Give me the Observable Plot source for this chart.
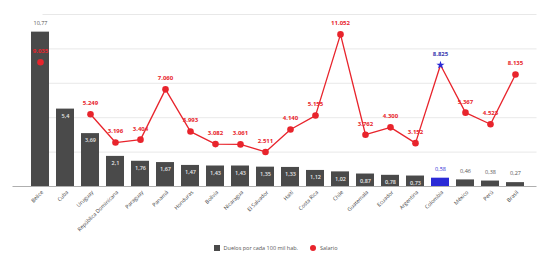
<!DOCTYPE html>
<html><head><meta charset="utf-8">
<script src="https://cdn.jsdelivr.net/npm/d3@7"></script>
<script src="https://cdn.jsdelivr.net/npm/@observablehq/plot@0.6"></script>
<style>
body{margin:0;background:#fff;font-family:"Open Sans",Roboto,sans-serif;width:537px;height:253px;overflow:hidden}
#legend{display:flex;justify-content:center;align-items:center;font-size:5.5px;color:#555;height:18px;padding-left:14px;padding-top:4px}
#legend .sq{width:6px;height:6px;background:#4a4a4a;margin-right:4px}
#legend .ci{width:6px;height:6px;border-radius:50%;background:#e8242c;margin:0 4px 0 12px}
</style></head><body>
<div id="chart"></div>
<div id="legend"><span class="sq"></span><span>Duelos por cada 100 mil hab.</span><span class="ci"></span><span>Salario</span></div>
<script>
const paises = ["Belice","Cuba","Uruguay","República Dominicana","Paraguay","Panamá","Honduras","Bolivia","Nicaragua","El Salvador","Haití","Costa Rica","Chile","Guatemala","Ecuador","Argentina","Colombia","México","Perú","Brasil"];
const duelos = [10.77,5.4,3.69,2.1,1.76,1.67,1.47,1.43,1.43,1.35,1.33,1.12,1.02,0.87,0.78,0.73,0.58,0.46,0.38,0.27];
const salario = [9035,null,5249,3196,3404,7060,3993,3082,3061,2511,4140,5155,11052,3762,4300,3152,8825,5367,4523,8135];
const destacado = "Colombia";
const gridSalario = [2500,5000,7500,10000,12500];
const maxDuelos = 12, maxSalario = 12500;

const k = maxSalario / maxDuelos;
const data = paises.map((p,i)=>({pais:p, duelos:duelos[i], salario:salario[i]}));
const loc = d3.formatLocale({decimal:",", thousands:".", grouping:[3], currency:["$",""]});
const fSal = loc.format(",");
const fDue = d => String(d).replace(".", ",");
const gray = "#4a4a4a", blue = "#2a2ad6", red = "#e8242c";

const chart = Plot.plot({
  width: 537, height: 235,
  marginTop: 14, marginBottom: 49, marginLeft: 18.5, marginRight: 0.5,
  style: {fontFamily: '"Open Sans", Roboto, sans-serif', background: "white"},
  x: {type: "band", domain: paises, paddingInner: 0.3, paddingOuter: 0.15, label: null},
  y: {domain: [0, maxSalario], axis: null},
  marks: [
    Plot.ruleY(gridSalario, {stroke: "#e2e2e2", strokeWidth: 0.8, insetLeft: 24}),
    Plot.barY(data, {x: "pais", y: d => d.duelos * k, fill: d => d.pais === destacado ? blue : gray}),
    Plot.ruleY([0], {stroke: "#9a9a9a", strokeWidth: 0.8, insetLeft: -6}),
    Plot.text(data.filter(d => d.duelos >= 0.7 && d.duelos < 10), {x: "pais", y: d => d.duelos * k, text: d => fDue(d.duelos), dy: 7, fill: "#e8e8e8", fontSize: 5.5, fontWeight: 600}),
    Plot.text(data.filter(d => d.duelos < 0.7 || d.duelos >= 10), {x: "pais", y: d => d.duelos * k, text: d => fDue(d.duelos), dy: -9, fill: d => d.pais === destacado ? blue : "#555", fontSize: 5.5, fontWeight: d => d.pais === destacado ? 700 : 600}),
    Plot.line(data, {x: "pais", y: "salario", stroke: red, strokeWidth: 1.3}),
    Plot.dot(data.filter(d => d.salario != null && d.pais !== destacado), {x: "pais", y: "salario", r: 3.3, fill: red}),
    Plot.dot(data.filter(d => d.pais === destacado), {x: "pais", y: "salario", r: 2.6, fill: blue, symbol: "star"}),
    Plot.text(data.filter(d => d.salario != null), {x: "pais", y: "salario", text: d => fSal(d.salario), dy: -11, fill: d => d.pais === destacado ? "#3a3ab0" : red, fontSize: 6, fontWeight: 700}),
    Plot.axisX({tickRotate: -45, tickSize: 0, tickPadding: 5, fontSize: 5.3, fill: "#444", label: null, dx: 2})
  ]
});
document.getElementById("chart").append(chart);
</script>
</body></html>
